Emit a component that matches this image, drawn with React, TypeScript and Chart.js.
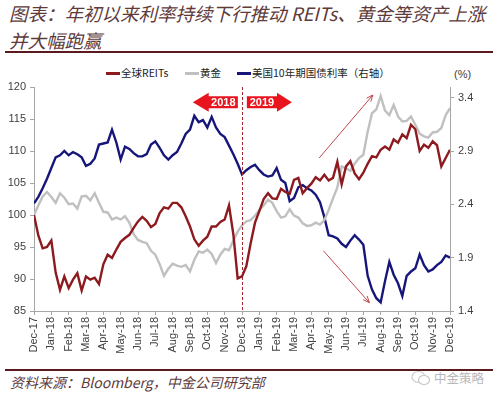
import React, { useEffect, useRef } from "react";
import { Chart, registerables } from "chart.js";

Chart.register(...registerables);

// ---------- data ----------
const monthLabels = [
  "Dec-17", "Jan-18", "Feb-18", "Mar-18", "Apr-18", "May-18", "Jun-18", "Jul-18",
  "Aug-18", "Sep-18", "Oct-18", "Nov-18", "Dec-18", "Jan-19", "Feb-19", "Mar-19",
  "Apr-19", "May-19", "Jun-19", "Jul-19", "Aug-19", "Sep-19", "Oct-19", "Nov-19", "Dec-19",
];

// sampled every quarter month from end-Dec-2017 to end-Dec-2019
const reits = [
  100.0, 96.8, 94.8, 95.0, 96.0, 91.0, 88.3, 90.4, 88.6, 89.9, 90.9, 88.2,
  90.4, 89.9, 90.2, 89.2, 92.3, 93.8, 93.3, 94.6, 95.8, 96.4, 96.9, 98.0,
  99.0, 99.7, 99.1, 98.1, 98.6, 100.3, 101.2, 101.0, 101.9, 101.9, 101.2, 99.8,
  98.2, 96.2, 95.2, 96.0, 96.6, 98.2, 98.2, 98.9, 99.3, 101.5, 97.0, 90.1,
  90.4, 92.0, 95.6, 98.8, 100.6, 102.5, 103.4, 102.6, 102.5, 104.1, 103.6, 103.3,
  105.5, 105.8, 103.4, 104.2, 104.9, 105.9, 105.4, 106.3, 105.4, 105.8, 108.3, 104.8,
  107.6, 108.4, 106.5, 105.6, 106.6, 108.0, 109.2, 109.0, 110.2, 110.7, 110.2, 111.8,
  111.3, 112.6, 112.0, 114.1, 113.4, 110.0, 111.0, 110.5, 111.5, 110.9, 107.6, 108.9,
  110.2,
];

const gold = [
  100.0, 101.5, 102.9, 103.6, 102.8, 101.9, 103.4, 102.7, 101.7, 101.8, 101.0, 102.9,
  103.0, 102.3, 103.4, 101.9, 100.5, 100.4, 99.3, 99.6, 99.3, 99.8, 98.8, 97.0,
  96.1, 95.8, 95.6, 94.4, 93.8, 92.3, 90.5, 91.6, 92.4, 92.1, 91.9, 92.2,
  91.2, 93.0, 94.3, 94.1, 94.6, 93.9, 92.5, 93.8, 94.7, 94.5, 96.0, 97.4,
  98.4, 99.0, 99.2, 99.9, 100.8, 101.5, 102.4, 101.9, 100.6, 99.6, 99.8, 100.9,
  99.9, 99.6, 98.7, 98.3, 98.4, 98.8, 98.5, 99.2, 100.8, 102.6, 104.3, 107.6,
  107.3, 106.9, 108.0, 108.9, 109.4, 113.0, 115.9, 116.5, 118.6, 116.3, 115.6, 117.2,
  115.4, 114.6, 114.7, 115.4, 114.1, 112.7, 112.3, 112.1, 112.9, 113.0, 113.6, 115.6,
  116.7,
];

const ust10y = [
  2.41, 2.47, 2.55, 2.64, 2.74, 2.84, 2.86, 2.90, 2.86, 2.89, 2.87, 2.84,
  2.76, 2.78, 2.83, 2.96, 2.97, 2.98, 3.10, 2.98, 2.82, 2.94, 2.92, 2.88,
  2.85, 2.85, 2.87, 2.96, 2.99, 2.93, 2.86, 2.82, 2.86, 2.89, 2.97, 3.06,
  3.10, 3.23, 3.17, 3.19, 3.12, 3.22, 3.12, 3.06, 3.03, 2.95, 2.87, 2.78,
  2.68, 2.72, 2.75, 2.77, 2.72, 2.68, 2.66, 2.67, 2.74, 2.63, 2.60, 2.43,
  2.46, 2.56, 2.58, 2.55, 2.53, 2.49, 2.42, 2.28, 2.11, 2.10, 2.08, 2.03,
  2.00, 2.06, 2.11, 2.07, 2.02, 1.73, 1.60, 1.52, 1.48, 1.68, 1.86, 1.74,
  1.66, 1.54, 1.73, 1.77, 1.80, 1.93, 1.83, 1.77, 1.79, 1.83, 1.86, 1.92,
  1.90,
];

const leftTicks = [85, 90, 95, 100, 105, 110, 115, 120];
const rightTicks = [1.4, 1.9, 2.4, 2.9, 3.4];

const seriesNames = ["全球REITs", "黄金", "美国10年期国债利率（右轴）"];
const seriesColors = ["#8c1a1f", "#c0c0c0", "#16167a"];

// ---------- styling ----------
const axisColor = "#a6a6a6";
const tickColor = "#404040";
const titleColor = "#5e3a3a";
const ruleColor = "#5a1a1e";
const fontLatin = "'Liberation Sans', Arial, sans-serif";
const fontCJK = "'Noto Sans CJK SC', 'Liberation Sans', sans-serif";

const toPoints = (arr: number[]) =>
  arr.map((v, i) => ({ x: (i * (monthLabels.length - 1)) / (arr.length - 1), y: v }));

function blockArrow(
  ctx: CanvasRenderingContext2D,
  bodyStart: number,
  headBase: number,
  tip: number,
  yc: number,
  label: string
) {
  const bh = 6;
  const hh = 9.5;
  ctx.fillStyle = "#e8151e";
  ctx.beginPath();
  ctx.moveTo(bodyStart, yc - bh);
  ctx.lineTo(headBase, yc - bh);
  ctx.lineTo(headBase, yc - hh);
  ctx.lineTo(tip, yc);
  ctx.lineTo(headBase, yc + hh);
  ctx.lineTo(headBase, yc + bh);
  ctx.lineTo(bodyStart, yc + bh);
  ctx.closePath();
  ctx.fill();
  ctx.fillStyle = "#ffffff";
  ctx.font = `bold 11px ${fontLatin}`;
  ctx.textAlign = "center";
  ctx.textBaseline = "middle";
  ctx.fillText(label, (bodyStart + headBase) / 2, yc + 0.5);
}

function thinArrow(ctx: CanvasRenderingContext2D, x1: number, y1: number, x2: number, y2: number) {
  ctx.strokeStyle = "#c2474b";
  ctx.lineWidth = 1;
  ctx.beginPath();
  ctx.moveTo(x1, y1);
  ctx.lineTo(x2, y2);
  ctx.stroke();
  const a = Math.atan2(y2 - y1, x2 - x1);
  const L = 7;
  ctx.beginPath();
  ctx.moveTo(x2 - L * Math.cos(a - 0.4), y2 - L * Math.sin(a - 0.4));
  ctx.lineTo(x2, y2);
  ctx.lineTo(x2 - L * Math.cos(a + 0.4), y2 - L * Math.sin(a + 0.4));
  ctx.stroke();
}

const annotationPlugin = {
  id: "annotations",
  afterDatasetsDraw(chart: any) {
    const { ctx, chartArea, scales } = chart;
    const xs = scales.x;
    const ys = scales.y;
    ctx.save();
    // dashed 2018 / 2019 divider
    const xd = Math.round(xs.getPixelForValue(12)) + 0.5;
    ctx.strokeStyle = "#a3262c";
    ctx.lineWidth = 1;
    ctx.setLineDash([3, 2]);
    ctx.beginPath();
    ctx.moveTo(xd, chartArea.top);
    ctx.lineTo(xd, chartArea.bottom);
    ctx.stroke();
    ctx.setLineDash([]);
    // year block arrows
    const yc = ys.getPixelForValue(117.6);
    blockArrow(ctx, xs.getPixelForValue(11.76), xs.getPixelForValue(10.08), xs.getPixelForValue(9.16), yc, "2018");
    blockArrow(ctx, xs.getPixelForValue(12.28), xs.getPixelForValue(14.02), xs.getPixelForValue(14.88), yc, "2019");
    // trend arrows
    thinArrow(ctx, xs.getPixelForValue(16.45), ys.getPixelForValue(108.9), xs.getPixelForValue(19.55), ys.getPixelForValue(118.75));
    thinArrow(ctx, xs.getPixelForValue(16.7), ys.getPixelForValue(94.4), xs.getPixelForValue(19.35), ys.getPixelForValue(86.3));
    ctx.restore();
  },
};

function ChartCanvas() {
  const ref = useRef<HTMLCanvasElement | null>(null);
  useEffect(() => {
    if (!ref.current) return;
    Chart.defaults.font.family = fontLatin;
    const tickFont = { size: 11, family: fontLatin };
    const chart = new Chart(ref.current, {
      type: "line",
      data: {
        datasets: [
          { label: seriesNames[0], data: toPoints(reits), borderColor: seriesColors[0], yAxisID: "y" },
          { label: seriesNames[1], data: toPoints(gold), borderColor: seriesColors[1], yAxisID: "y" },
          { label: seriesNames[2], data: toPoints(ust10y), borderColor: seriesColors[2], yAxisID: "y1" },
        ].map((d) => ({ ...d, borderWidth: 2.4, pointRadius: 0, tension: 0, fill: false })),
      },
      options: {
        animation: false,
        responsive: false,
        devicePixelRatio: 1,
        layout: { padding: { top: 27, left: 0, right: 0, bottom: 0 } },
        plugins: { legend: { display: false }, title: { display: false }, tooltip: { enabled: false } },
        scales: {
          x: {
            type: "linear",
            min: 0,
            max: monthLabels.length - 1,
            afterBuildTicks: (s: any) => {
              s.ticks = monthLabels.map((_, i) => ({ value: i }));
            },
            afterFit: (s: any) => {
              s.height = 49;
            },
            ticks: {
              autoSkip: false,
              minRotation: 90,
              maxRotation: 90,
              padding: 2,
              color: tickColor,
              font: tickFont,
              callback: (_v: any, i: number) => monthLabels[i],
            },
            grid: { display: true, drawOnChartArea: false, drawTicks: true, tickLength: 4, color: axisColor },
            border: { display: true, color: axisColor },
          },
          y: {
            position: "left",
            min: leftTicks[0],
            max: leftTicks[leftTicks.length - 1],
            afterBuildTicks: (s: any) => {
              s.ticks = leftTicks.map((v) => ({ value: v }));
            },
            afterFit: (s: any) => {
              s.width = 34;
            },
            ticks: { padding: 4, color: tickColor, font: tickFont },
            grid: { display: true, drawOnChartArea: false, drawTicks: true, tickLength: 4, color: axisColor },
            border: { display: true, color: axisColor },
          },
          y1: {
            position: "right",
            min: 1.4,
            max: 3.5,
            afterBuildTicks: (s: any) => {
              s.ticks = rightTicks.map((v) => ({ value: v }));
            },
            afterFit: (s: any) => {
              s.width = 49;
            },
            ticks: { padding: 4, color: tickColor, font: tickFont, callback: (v: any) => Number(v).toFixed(1) },
            grid: { display: true, drawOnChartArea: false, drawTicks: true, tickLength: 4, color: axisColor },
            border: { display: true, color: axisColor },
          },
        },
      },
      plugins: [annotationPlugin],
    } as any);
    return () => chart.destroy();
  }, []);
  return <canvas ref={ref} width={499} height={300} style={{ width: 499, height: 300, display: "block" }} />;
}

export default function App() {
  useEffect(() => {
    document.body.style.margin = "0";
  }, []);
  const abs = (o: React.CSSProperties): React.CSSProperties => ({ position: "absolute", ...o });
  const legendText: React.CSSProperties = {
    fontFamily: fontCJK,
    fontSize: 10.5,
    color: "#222",
    lineHeight: "14px",
    whiteSpace: "nowrap",
  };
  const marker = (color: string): React.CSSProperties => ({ height: 3, width: 14, background: color });
  return (
    <div style={{ position: "fixed", left: 0, top: 0, width: 499, height: 399, background: "#fff", overflow: "hidden" }}>
      {/* title */}
      <div
        style={abs({
          left: 9,
          top: 0,
          width: 490,
          fontFamily: fontCJK,
          fontStyle: "italic",
          fontSize: 18.5,
          lineHeight: "27px",
          color: titleColor,
          whiteSpace: "nowrap",
        })}
      >
        <div>图表：年初以来利率持续下行推动 REITs、黄金等资产上涨</div>
        <div>并大幅跑赢</div>
      </div>
      <div style={abs({ left: 5, top: 51, width: 488, height: 2, background: ruleColor })} />

      {/* legend */}
      <div style={abs({ left: 106, top: 71.5, ...marker(seriesColors[0]) })} />
      <div style={abs({ left: 121, top: 66, ...legendText })}>{seriesNames[0]}</div>
      <div style={abs({ left: 185, top: 71.5, ...marker(seriesColors[1]) })} />
      <div style={abs({ left: 200, top: 66, ...legendText })}>{seriesNames[1]}</div>
      <div style={abs({ left: 237, top: 71.5, ...marker(seriesColors[2]) })} />
      <div style={abs({ left: 252, top: 66, ...legendText })}>{seriesNames[2]}</div>
      <div style={abs({ left: 454, top: 67, fontFamily: fontLatin, fontSize: 11, color: tickColor, lineHeight: "14px" })}>(%)</div>

      {/* chart */}
      <div style={abs({ left: 0, top: 60, width: 499, height: 300 })}>
        <ChartCanvas />
      </div>

      {/* footer */}
      <div style={abs({ left: 5, top: 369, width: 488, height: 2, background: ruleColor })} />
      <div
        style={abs({
          left: 10,
          top: 372,
          fontFamily: fontCJK,
          fontStyle: "italic",
          fontSize: 14,
          lineHeight: "20px",
          color: titleColor,
          whiteSpace: "nowrap",
        })}
      >
        资料来源：Bloomberg，中金公司研究部
      </div>
      <svg style={abs({ left: 411, top: 370 })} width={20} height={16} viewBox="0 0 20 16">
        <ellipse cx="7.5" cy="7" rx="6.5" ry="5.5" fill="none" stroke="#c8c8c8" strokeWidth="1.2" />
        <ellipse cx="13" cy="10" rx="5.5" ry="4.5" fill="#fff" stroke="#c8c8c8" strokeWidth="1.2" />
      </svg>
      <div
        style={abs({
          left: 434,
          top: 369,
          fontFamily: fontCJK,
          fontSize: 12.5,
          lineHeight: "18px",
          color: "#b8b8b8",
          whiteSpace: "nowrap",
        })}
      >
        中金策略
      </div>
    </div>
  );
}
